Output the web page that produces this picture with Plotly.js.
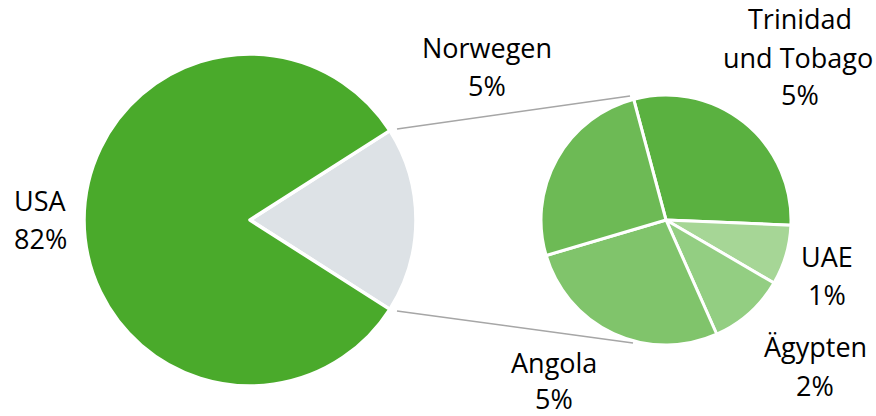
<!DOCTYPE html>
<html>
<head>
<meta charset="utf-8">
<script src="https://cdn.plot.ly/plotly-3.0.1.min.js"></script>
<style>html,body{margin:0;padding:0;background:#fff;}#chart{width:876px;height:416px;}</style>
</head>
<body>
<div id="chart"></div>
<script>
// ---- data ----
var mainLabels = ['Übrige', 'USA'];
var usaValue = 81.9;
var subLabels = ['Trinidad und Tobago', 'UAE', 'Ägypten', 'Angola', 'Norwegen'];
var subValues = [5.4, 1.4, 1.8, 4.9, 4.6];

var otherValue = subValues.reduce(function(a, b){ return a + b; }, 0);
var mainValues = [otherValue, usaValue];
var total = usaValue + otherValue;
function pct(v){ return Math.round(v / total * 100) + '%'; }

// ---- styling ----
var W = 876, H = 416;
function px(x){ return x / W; }
function py(y){ return 1 - y / H; }

var mainColors = ['#dde2e6', '#4aaa2b'];
var subColors = ['#5ab140', '#a6d696', '#93ce82', '#80c46b', '#6dba55'];

var traces = [
  {
    type: 'pie', values: mainValues, labels: mainLabels, sort: false,
    direction: 'clockwise', rotation: 90 - 180 * otherValue / total,
    marker: {colors: mainColors, line: {color: '#ffffff', width: 3.5}},
    textinfo: 'none', hoverinfo: 'label+percent',
    domain: {x: [px(84), px(416)], y: [py(386), py(54)]}
  },
  {
    type: 'pie', values: subValues, labels: subLabels, sort: false,
    direction: 'clockwise', rotation: -15,
    marker: {colors: subColors, line: {color: '#ffffff', width: 3}},
    textinfo: 'none', hoverinfo: 'label+value',
    domain: {x: [px(541), px(791)], y: [py(345), py(95)]}
  }
];

// label lines: [text, x-center(px), y-center(px)]
var labelLines = [
  ['USA', 40, 201], [pct(usaValue), 40, 239],
  ['Norwegen', 487, 47], [pct(subValues[4]), 487, 85],
  ['Trinidad', 800, 19], ['und Tobago', 798, 57], [pct(subValues[0]), 800, 95],
  ['UAE', 827, 256], [pct(subValues[1]), 827, 294],
  ['Ägypten', 815, 346], [pct(subValues[2]), 815, 385],
  ['Angola', 554, 362], [pct(subValues[3]), 554, 398]
];

var annotations = labelLines.map(function(l){
  return {text: l[0], x: px(l[1]), y: py(l[2]), xref: 'paper', yref: 'paper',
          xanchor: 'center', yanchor: 'middle', showarrow: false,
          font: {family: '"Open Sans", Lato, sans-serif', size: 27, color: '#000000'}};
});

var shapes = [
  {type: 'line', xref: 'paper', yref: 'paper', x0: px(397), y0: py(129), x1: px(630), y1: py(96),
   line: {color: '#a6a6a6', width: 1.5}},
  {type: 'line', xref: 'paper', yref: 'paper', x0: px(397), y0: py(311), x1: px(633), y1: py(343),
   line: {color: '#a6a6a6', width: 1.5}}
];

var layout = {
  width: W, height: H,
  margin: {l: 0, r: 0, t: 0, b: 0},
  paper_bgcolor: '#ffffff',
  showlegend: false,
  annotations: annotations,
  shapes: shapes
};

Plotly.newPlot('chart', traces, layout, {displayModeBar: false, staticPlot: true});
</script>
</body>
</html>
